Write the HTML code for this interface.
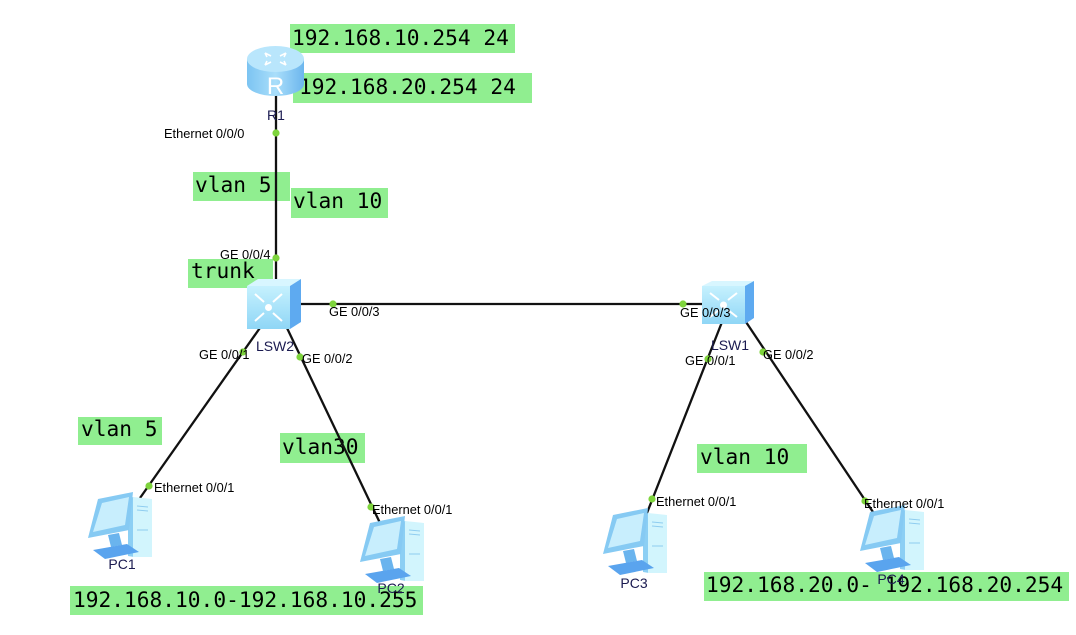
<!DOCTYPE html>
<html><head><meta charset="utf-8"><style>
html,body{margin:0;padding:0;background:#fff;}
svg{display:block;}
.mono{font-family:"DejaVu Sans Mono","Liberation Mono",monospace;font-size:21.2px;fill:#000;}
.port{font-family:"Liberation Sans",Arial,sans-serif;font-size:12.8px;fill:#000;}
.dev{font-family:"Liberation Sans",Arial,sans-serif;font-size:14px;fill:#1a1a50;text-anchor:middle;}
</style></head><body>
<svg width="1076" height="635" viewBox="0 0 1076 635" xmlns="http://www.w3.org/2000/svg">
<defs>
<linearGradient id="rb" x1="0" y1="0" x2="1" y2="0">
<stop offset="0" stop-color="#7cc4f2"/><stop offset="0.5" stop-color="#a9defa"/><stop offset="1" stop-color="#6cb6ee"/>
</linearGradient>
<linearGradient id="sf" x1="0" y1="0" x2="0" y2="1">
<stop offset="0" stop-color="#c6f1fe"/><stop offset="1" stop-color="#8fd6f6"/>
</linearGradient>
<g id="pc">
<polygon points="41,6 47,5 47,65 41,64" fill="#8ccff4"/>
<polygon points="46,5 65,7 65,65 46,65" fill="#d2f5fd"/>
<line x1="50" y1="14" x2="61" y2="15" stroke="#8fcdf0" stroke-width="1"/>
<line x1="50" y1="18" x2="61" y2="19" stroke="#8fcdf0" stroke-width="1"/>
<line x1="50" y1="38" x2="61" y2="38" stroke="#8fcdf0" stroke-width="1"/>
<polygon points="11,7 46,0 42,38 1,46" fill="#86caf3"/>
<polygon points="15,11 42,5 38,33 6,40" fill="#c8eefd"/>
<polygon points="21,43 32,41 35,53 24,55" fill="#6ab4ee"/>
<polygon points="6,58 40,52 52,60 18,67" fill="#5aa4ee"/>
</g>
</defs>

<!-- green boxes -->
<g fill="#90ee90">
<rect x="290" y="24" width="225" height="29"/>
<rect x="293" y="73" width="239" height="30"/>
<rect x="193" y="172" width="97" height="29"/>
<rect x="291" y="188" width="97" height="30"/>
<rect x="188" y="259" width="85" height="29"/>
<rect x="78" y="417" width="84" height="28"/>
<rect x="280" y="433" width="85" height="30"/>
<rect x="697" y="444" width="110" height="29"/>
<rect x="70" y="586" width="353" height="29"/>
<rect x="704" y="572" width="365" height="29"/>
</g>
<text class="mono" x="292" y="45">192.168.10.254 24</text>
<text class="mono" x="299" y="94">192.168.20.254 24</text>
<text class="mono" x="195" y="192">vlan 5</text>
<text class="mono" x="293" y="208">vlan 10</text>
<text class="mono" x="191" y="278">trunk</text>
<text class="mono" x="81" y="436">vlan 5</text>
<text class="mono" x="282" y="454">vlan30</text>
<text class="mono" x="700" y="464">vlan 10</text>
<text class="mono" x="73" y="607">192.168.10.0-192.168.10.255</text>
<text class="mono" x="706" y="592">192.168.20.0- 192.168.20.254</text>

<!-- links -->
<g stroke="#111" stroke-width="2.3" fill="none">
<line x1="276" y1="95" x2="276" y2="288"/>
<line x1="300" y1="304" x2="703" y2="304"/>
<line x1="262" y1="325" x2="140" y2="498"/>
<line x1="287" y1="328" x2="380" y2="523"/>
<line x1="722" y1="322" x2="645" y2="518"/>
<line x1="746" y1="322" x2="875" y2="515"/>
</g>

<!-- router -->
<g>
<rect x="247" y="59" width="57" height="25" fill="url(#rb)"/>
<ellipse cx="275.5" cy="84" rx="28.5" ry="12" fill="url(#rb)"/>
<ellipse cx="275.5" cy="59" rx="28.5" ry="13" fill="#b9e6fc"/>
<g stroke="#fff" stroke-width="1.6" fill="none">
<path d="M265 53 L271 56 M265 53 L267 57"/>
<path d="M286 53 L280 56 M286 53 L284 57"/>
<path d="M265 65 L271 62 M265 65 L267 61"/>
<path d="M286 65 L280 62 M286 65 L284 61"/>
</g>
<text x="275.5" y="94" font-family="Liberation Sans,Arial,sans-serif" font-size="24" fill="#fff" text-anchor="middle">R</text>
</g>

<!-- LSW2 -->
<g>
<polygon points="247,286 258,279 301,279 290,286" fill="#d8f6ff"/>
<polygon points="290,286 301,279 301,322 290,329" fill="#5eaaf0"/>
<rect x="247" y="286" width="43" height="43" fill="url(#sf)"/>
<g stroke="#fff" stroke-width="2" fill="none">
<path d="M255 294 L264 302 M255 321 L264 313 M282 294 L273 302 M282 321 L273 313"/>
</g>
<circle cx="268.5" cy="307.5" r="3.5" fill="#fff"/>
</g>
<!-- LSW1 -->
<g>
<polygon points="702,286 712,281 754,281 745,286" fill="#d8f6ff"/>
<polygon points="745,286 754,281 754,318 745,324" fill="#5eaaf0"/>
<rect x="702" y="286" width="43" height="38" fill="url(#sf)"/>
<g stroke="#fff" stroke-width="2" fill="none">
<path d="M710 293 L719 300 M710 317 L719 310 M737 293 L728 300 M737 317 L728 310"/>
</g>
<circle cx="723.5" cy="305" r="3.5" fill="#fff"/>
</g>

<!-- PCs -->
<use href="#pc" x="87" y="492"/>
<use href="#pc" x="359" y="516"/>
<use href="#pc" x="602" y="508"/>
<use href="#pc" x="859" y="505"/>

<!-- port dots -->
<g fill="#7ed43c">
<circle cx="276" cy="133" r="3.6"/>
<circle cx="276" cy="258" r="3.6"/>
<circle cx="333" cy="304" r="3.6"/>
<circle cx="683" cy="304" r="3.6"/>
<circle cx="243" cy="352" r="3.6"/>
<circle cx="300" cy="357" r="3.6"/>
<circle cx="708" cy="359" r="3.6"/>
<circle cx="763" cy="352" r="3.6"/>
<circle cx="149" cy="486" r="3.6"/>
<circle cx="371" cy="507" r="3.6"/>
<circle cx="652" cy="499" r="3.6"/>
<circle cx="865" cy="501" r="3.6"/>
</g>

<!-- port labels -->
<text class="port" x="164" y="138">Ethernet 0/0/0</text>
<text class="port" x="220" y="259">GE 0/0/4</text>
<text class="port" x="329" y="316">GE 0/0/3</text>
<text class="port" x="199" y="359">GE 0/0/1</text>
<text class="port" x="302" y="363">GE 0/0/2</text>
<text class="port" x="680" y="317">GE 0/0/3</text>
<text class="port" x="685" y="365">GE 0/0/1</text>
<text class="port" x="763" y="359">GE 0/0/2</text>
<text class="port" x="154" y="492">Ethernet 0/0/1</text>
<text class="port" x="372" y="514">Ethernet 0/0/1</text>
<text class="port" x="656" y="506">Ethernet 0/0/1</text>
<text class="port" x="864" y="508">Ethernet 0/0/1</text>

<!-- device labels -->
<text class="dev" x="276" y="120">R1</text>
<text class="dev" x="275" y="351">LSW2</text>
<text class="dev" x="730" y="350">LSW1</text>
<text class="dev" x="122" y="569">PC1</text>
<text class="dev" x="391" y="593">PC2</text>
<text class="dev" x="634" y="588">PC3</text>
<text class="dev" x="891" y="584">PC4</text>
</svg>
</body></html>
